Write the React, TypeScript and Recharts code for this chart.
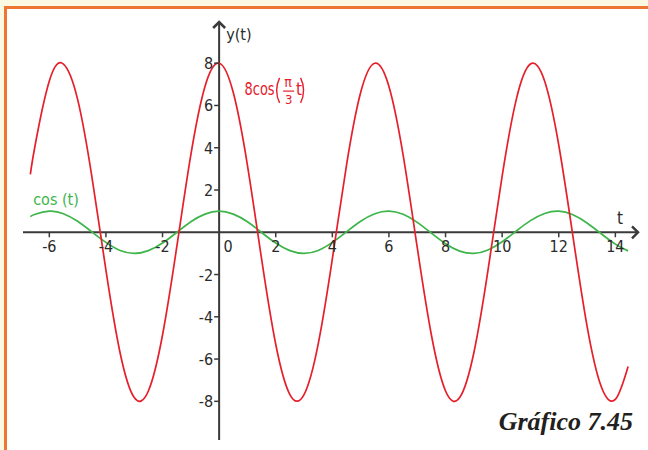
import React from 'react';
import { LineChart, Line, XAxis, YAxis, ReferenceLine, ReferenceDot } from 'recharts';

// sample positions along t
const tValues = [-6.67, -6.5, -6, -5.5, -5, -4.5, -4, -3.5, -3, -2.5, -2, -1.5, -1, -0.5, 0, 0.5, 1, 1.5, 2, 2.5, 3, 3.5, 4, 4.5, 5, 5.5, 6, 6.5, 7, 7.5, 8, 8.5, 9, 9.5, 10, 10.5, 11, 11.5, 12, 12.5, 13, 13.5, 14, 14.45];
// 8cos(pi/3 t)
const bigWave = [2.74, 4.13, 7.16, 7.96, 6.29, 2.66, -1.79, -5.7, -7.82, -7.51, -4.86, -0.72, 3.66, 6.9, 8.0, 6.61, 3.17, -1.26, -5.3, -7.68, -7.68, -5.29, -1.26, 3.17, 6.61, 8.0, 6.9, 3.66, -0.72, -4.86, -7.51, -7.82, -5.7, -1.79, 2.66, 6.29, 7.96, 7.16, 4.13, -0.18, -4.44, -7.3, -7.91, -6.35];
// cos(t)
const cosWave = [0.74, 0.85, 1.0, 0.88, 0.52, 0.02, -0.48, -0.86, -1.0, -0.87, -0.51, -0.01, 0.5, 0.86, 1.0, 0.86, 0.5, -0.01, -0.51, -0.87, -1.0, -0.86, -0.48, 0.02, 0.52, 0.88, 1.0, 0.85, 0.47, -0.04, -0.54, -0.89, -1.0, -0.84, -0.45, 0.06, 0.55, 0.89, 1.0, 0.83, 0.44, -0.07, -0.56, -0.88];

const xTicks = [-6, -4, -2, 0, 2, 4, 6, 8, 10, 12, 14];
const yTicks = [-8, -6, -4, -2, 2, 4, 6, 8];
const xDomain: [number, number] = [-6.93, 14.8];
const yDomain: [number, number] = [-9.83, 9.95];

const bigLabelAt = { t: 0.9, v: 6.5 };
const cosLabelAt = { t: -6.57, v: 1.29 };

const RED = '#E5202B';
const GREEN = '#3DB54A';
const AXIS = '#3a3a3a';
const TEXT = '#2a2a2a';
const FONT = '"Liberation Sans Narrow", "DejaVu Sans Condensed", Roboto, sans-serif';

const data = tValues.map((t, i) => ({ t, big: bigWave[i], cosv: cosWave[i] }));

export default function App() {
  return (
    <div style={{ position: 'absolute', left: 0, top: 0, width: 648, height: 450, background: '#ffffff', overflow: 'hidden' }}>
      <div style={{ position: 'absolute', left: 0, top: 0, width: 648, height: 6, background: '#FBF9E2' }} />
      <div style={{ position: 'absolute', left: 0, top: 0, width: 4, height: 450, background: '#FBF9E2' }} />
      <div style={{ position: 'absolute', left: 4, top: 6, width: 644, height: 3, background: '#EE7633' }} />
      <div style={{ position: 'absolute', left: 4, top: 6, width: 3, height: 444, background: '#EE7633' }} />
      <div style={{ position: 'absolute', left: 0, top: 0 }}>
        <LineChart width={648} height={450} data={data} margin={{ top: 22, right: 10, bottom: 10, left: 23 }}>
          <XAxis type="number" dataKey="t" domain={xDomain} hide allowDataOverflow />
          <YAxis type="number" domain={yDomain} hide allowDataOverflow />
          <ReferenceLine y={0} stroke={AXIS} strokeWidth={2} ifOverflow="visible" />
          <ReferenceLine x={0} stroke={AXIS} strokeWidth={2} ifOverflow="visible" />
          {xTicks.map((v) => (
            <ReferenceDot
              key={'x' + v}
              x={v}
              y={0}
              ifOverflow="visible"
              shape={(p: any) => (
                <g>
                  {v !== 0 && <line x1={p.cx} y1={p.cy} x2={p.cx} y2={p.cy + 5} stroke={AXIS} strokeWidth={1.5} />}
                  <text x={v === 0 ? p.cx + 9 : p.cx} y={p.cy + 20} textAnchor="middle" fontFamily={FONT} fontSize={16} fill={TEXT}>
                    {String(v)}
                  </text>
                </g>
              )}
            />
          ))}
          {yTicks.map((v) => (
            <ReferenceDot
              key={'y' + v}
              x={0}
              y={v}
              ifOverflow="visible"
              shape={(p: any) => (
                <g>
                  <line x1={p.cx - 5} y1={p.cy} x2={p.cx} y2={p.cy} stroke={AXIS} strokeWidth={1.5} />
                  <text x={p.cx - 6} y={p.cy + 6} textAnchor="end" fontFamily={FONT} fontSize={16} fill={TEXT}>
                    {String(v)}
                  </text>
                </g>
              )}
            />
          ))}
          <ReferenceDot
            x={xDomain[1]}
            y={0}
            ifOverflow="visible"
            shape={(p: any) => (
              <g>
                <path d={`M${p.cx - 6},${p.cy - 6} L${p.cx},${p.cy} L${p.cx - 6},${p.cy + 6}`} fill="none" stroke={AXIS} strokeWidth={2.5} />
                <text x={p.cx - 18} y={p.cy - 8} textAnchor="middle" fontFamily={FONT} fontSize={17} fill={TEXT}>t</text>
              </g>
            )}
          />
          <ReferenceDot
            x={0}
            y={yDomain[1]}
            ifOverflow="visible"
            shape={(p: any) => (
              <g>
                <path d={`M${p.cx - 6},${p.cy + 6} L${p.cx},${p.cy} L${p.cx + 6},${p.cy + 6}`} fill="none" stroke={AXIS} strokeWidth={2.5} />
                <text x={p.cx + 7} y={p.cy + 18} textAnchor="start" fontFamily={FONT} fontSize={16} fill={TEXT}>y(t)</text>
              </g>
            )}
          />
          <Line type="natural" dataKey="cosv" stroke={GREEN} strokeWidth={1.7} dot={false} isAnimationActive={false} />
          <Line type="natural" dataKey="big" stroke={RED} strokeWidth={1.7} dot={false} isAnimationActive={false} />
          <ReferenceDot
            x={bigLabelAt.t}
            y={bigLabelAt.v}
            ifOverflow="visible"
            shape={(p: any) => {
              const x = p.cx;
              const y = p.cy;
              return (
                <g fill={RED} fontFamily={FONT}>
                  <text x={x} y={y} fontSize={17} textLength={30} lengthAdjust="spacingAndGlyphs">8cos</text>
                  <path d={`M${x + 35},${y - 17} Q${x + 29},${y - 4.5} ${x + 35},${y + 8}`} fill="none" stroke={RED} strokeWidth={1.4} />
                  <text x={x + 43.5} y={y - 8} fontSize={14} textAnchor="middle">π</text>
                  <line x1={x + 38.5} y1={y - 3.8} x2={x + 49.5} y2={y - 3.8} stroke={RED} strokeWidth={1.2} />
                  <text x={x + 44} y={y + 9} fontSize={13} textAnchor="middle">3</text>
                  <text x={x + 51.5} y={y} fontSize={17}>t</text>
                  <path d={`M${x + 56},${y - 17} Q${x + 62},${y - 4.5} ${x + 56},${y + 8}`} fill="none" stroke={RED} strokeWidth={1.4} />
                </g>
              );
            }}
          />
          <ReferenceDot
            x={cosLabelAt.t}
            y={cosLabelAt.v}
            ifOverflow="visible"
            shape={(p: any) => (
              <text x={p.cx} y={p.cy} fontFamily={FONT} fontSize={16} fill={GREEN}>cos (t)</text>
            )}
          />
        </LineChart>
      </div>
      <div
        style={{
          position: 'absolute',
          right: 15,
          top: 407,
          fontFamily: '"Liberation Serif", "DejaVu Serif", serif',
          fontStyle: 'italic',
          fontWeight: 700,
          fontSize: 26,
          color: '#231f20',
          whiteSpace: 'nowrap',
          lineHeight: '30px',
        }}
      >
        Gráfico 7.45
      </div>
    </div>
  );
}
